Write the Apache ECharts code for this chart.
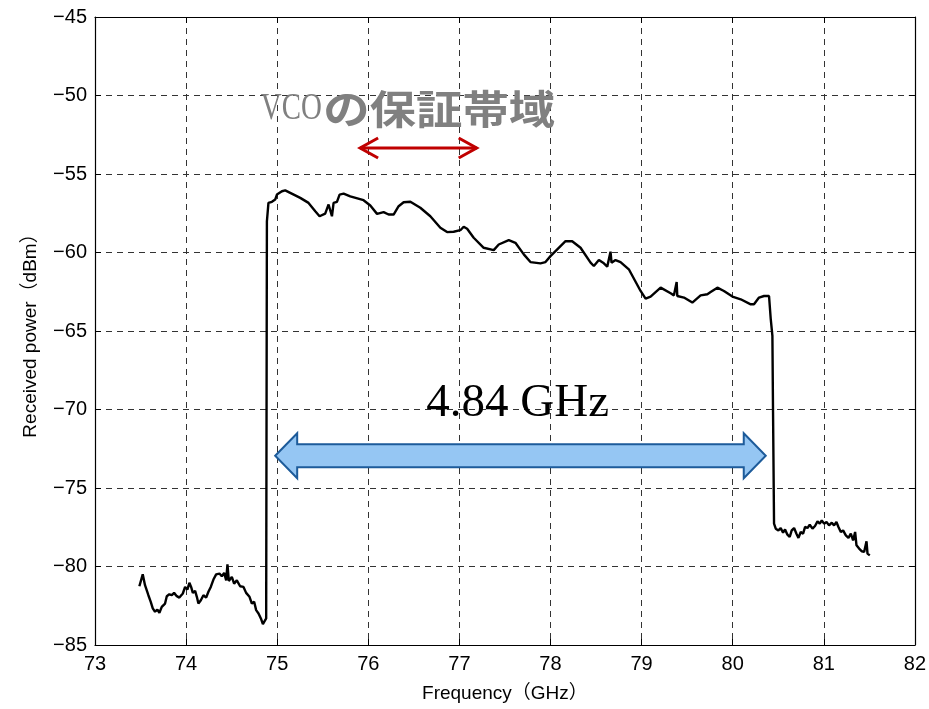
<!DOCTYPE html>
<html>
<head>
<meta charset="utf-8">
<script src="https://cdn.jsdelivr.net/npm/echarts@6/dist/echarts.min.js"></script>
<style>
  html, body { margin: 0; padding: 0; background: #fff; }
  #chart { width: 929px; height: 709px; }
</style>
</head>
<body>
<div id="chart"></div>
<script>
const freqGHz = [
  73.487, 73.524, 73.549, 73.586, 73.612, 73.634, 73.659, 73.685, 73.707, 73.733,
  73.769, 73.788, 73.816, 73.843, 73.868, 73.898, 73.926, 73.964, 73.989, 74.014,
  74.036, 74.055, 74.074, 74.099, 74.118, 74.135, 74.162, 74.190, 74.220, 74.245,
  74.271, 74.300, 74.330, 74.366, 74.392, 74.418, 74.440, 74.454, 74.469, 74.502,
  74.527, 74.557, 74.593, 74.630, 74.659, 74.696, 74.722, 74.747, 74.769, 74.795,
  74.821, 74.843, 74.860, 74.879,
  74.887, 74.904, 74.942, 74.978, 74.997, 75.052, 75.088, 75.143, 75.253, 75.344,
  75.418, 75.465, 75.527, 75.564, 75.601, 75.619, 75.656, 75.685, 75.729, 75.802,
  75.948, 76.022, 76.096, 76.168, 76.223, 76.278, 76.333, 76.388, 76.462, 76.571,
  76.681, 76.791, 76.865, 76.937, 77.011, 77.047, 77.085, 77.157, 77.267, 77.377,
  77.432, 77.542, 77.615, 77.707, 77.78, 77.89, 77.945, 78.0, 78.11, 78.165,
  78.238, 78.33, 78.44, 78.476, 78.531, 78.586, 78.623, 78.659, 78.67, 78.714,
  78.769, 78.86, 78.989, 79.044, 79.099, 79.209, 79.319, 79.355, 79.385, 79.392,
  79.465, 79.557, 79.648, 79.722, 79.758, 79.832, 79.904, 79.997, 80.088, 80.198,
  80.234, 80.289, 80.344, 80.399, 80.418, 80.436, 80.443,
  80.454, 80.473, 80.502, 80.527, 80.553, 80.575, 80.601, 80.626, 80.648, 80.674,
  80.700, 80.722, 80.747, 80.773, 80.795, 80.821, 80.846, 80.876, 80.904, 80.931,
  80.956, 80.978, 81.003, 81.030, 81.058, 81.088, 81.113, 81.139, 81.161, 81.187,
  81.212, 81.242, 81.271, 81.297, 81.322, 81.344, 81.359, 81.388, 81.418, 81.443,
  81.469, 81.480, 81.505
];
const powerDbm = [
  -81.26, -80.50, -81.19, -81.83, -82.25, -82.67, -82.88, -82.74, -82.95, -82.57,
  -82.36, -81.89, -81.77, -81.83, -81.68, -81.89, -81.98, -81.72, -81.30, -81.47,
  -81.04, -81.30, -81.68, -81.55, -81.93, -82.36, -82.15, -81.83, -81.98, -81.61,
  -81.30, -80.83, -80.50, -80.45, -80.62, -80.41, -80.88, -79.86, -80.92, -80.66,
  -81.09, -80.88, -81.26, -81.30, -81.68, -81.93, -82.36, -82.25, -82.78, -82.99,
  -83.31, -83.67, -83.74, -83.31,
  -58.02, -56.84, -56.77, -56.63, -56.31, -56.10, -56.04, -56.20, -56.52, -56.84,
  -57.37, -57.69, -57.52, -56.94, -57.69, -56.84, -56.77, -56.31, -56.25, -56.42,
  -56.67, -57.01, -57.54, -57.43, -57.58, -57.58, -57.05, -56.80, -56.77, -57.15,
  -57.69, -58.42, -58.70, -58.68, -58.58, -58.36, -58.49, -59.06, -59.70, -59.85,
  -59.49, -59.21, -59.38, -60.12, -60.61, -60.69, -60.61, -60.23, -59.59, -59.28,
  -59.28, -59.70, -60.65, -60.86, -60.48, -60.69, -60.90, -59.95, -60.65, -60.48,
  -60.61, -61.07, -62.45, -62.94, -62.81, -62.24, -62.60, -62.73, -61.88, -62.77,
  -62.87, -63.19, -62.73, -62.66, -62.52, -62.24, -62.45, -62.81, -62.98, -63.30,
  -63.30, -62.87, -62.77, -62.77, -64.25, -65.31, -70.16,
  -77.27, -77.59, -77.70, -77.55, -77.85, -77.64, -77.97, -78.12, -77.70, -77.55,
  -77.91, -78.18, -77.80, -77.91, -77.48, -77.55, -77.34, -77.59, -77.42, -77.13,
  -77.27, -77.06, -77.27, -77.17, -77.38, -77.21, -77.38, -77.17, -77.48, -77.80,
  -77.70, -78.02, -78.18, -77.91, -78.34, -77.80, -78.65, -78.86, -79.03, -79.07,
  -78.40, -79.18, -79.29
];

// axis ranges / ticks
const xTicks = { min: 73, max: 82, step: 1 };
const yTicks = { min: -85, max: -45, step: 5 };

// annotations in data coordinates
const vcoLatin = 'VCO';
const vcoKana = 'の保証帯域';
const vcoBand = [75.91, 77.19];       // red arrow ends (GHz)
const vcoArrowY = -53.34;
const spanLabel = '4.84 GHz';
const spanEnds = [74.978, 80.363];     // blue arrow tips (GHz)
const spanArrowY = -72.95;

var chartDom = document.getElementById('chart');
var myChart = echarts.init(chartDom);

var axisFont = "'Liberation Sans', 'Noto Sans CJK JP', sans-serif";
var gridLine = { show: true, lineStyle: { color: '#333', width: 1, type: [6, 5] } };
var boxLine = { show: true, onZero: false, lineStyle: { color: '#000', width: 1.2 } };
var inTick = { show: true, inside: true, length: 6, lineStyle: { color: '#000' } };

var option = {
  animation: false,
  grid: { left: 95, right: 14, top: 17, bottom: 64 },
  xAxis: [
    {
      type: 'value', min: xTicks.min, max: xTicks.max, interval: xTicks.step,
      name: 'Frequency（GHz）', nameLocation: 'middle', nameGap: 39,
      nameTextStyle: { fontSize: 19, color: '#000', fontFamily: axisFont },
      axisLine: boxLine, axisTick: inTick,
      axisLabel: { fontSize: 20, color: '#000', margin: 9, fontFamily: axisFont },
      splitLine: gridLine
    },
    {
      type: 'value', position: 'top', min: xTicks.min, max: xTicks.max, interval: xTicks.step,
      axisLine: boxLine, axisTick: inTick, axisLabel: { show: false }, splitLine: { show: false }
    }
  ],
  yAxis: [
    {
      type: 'value', min: yTicks.min, max: yTicks.max, interval: yTicks.step,
      name: 'Received power（dBm）', nameLocation: 'middle', nameGap: 55, nameRotate: 90,
      nameTextStyle: { fontSize: 19, color: '#000', fontFamily: axisFont },
      axisLine: boxLine, axisTick: inTick,
      axisLabel: {
        fontSize: 20, color: '#000', margin: 8, fontFamily: axisFont,
        formatter: function (v) { return String(v).replace('-', '\u2212'); }
      },
      splitLine: gridLine
    },
    {
      type: 'value', position: 'right', min: yTicks.min, max: yTicks.max, interval: yTicks.step,
      axisLine: boxLine, axisTick: inTick, axisLabel: { show: false }, splitLine: { show: false }
    }
  ],
  series: [
    {
      name: 'Received power',
      type: 'line',
      showSymbol: false,
      data: freqGHz.map(function (f, i) { return [f, powerDbm[i]]; }),
      lineStyle: { color: '#000', width: 2.4 },
      z: 5
    }
  ]
};

myChart.setOption(option);

// annotations placed through the axes
function px(x, y) { return myChart.convertToPixel({ gridIndex: 0 }, [x, y]); }

var vL = px(vcoBand[0], vcoArrowY), vR = px(vcoBand[1], vcoArrowY);
var sL = px(spanEnds[0], spanArrowY), sR = px(spanEnds[1], spanArrowY);
var vcoAt = px(74.82, -50.85);
var kanaAt = px(75.505, -50.86);
var spanText = px(77.64, -69.6);

var shaftH = 11.5, headH = 22.5, headL = 22;
var blueArrow = [
  [sL[0], sL[1]],
  [sL[0] + headL, sL[1] - headH],
  [sL[0] + headL, sL[1] - shaftH],
  [sR[0] - headL, sR[1] - shaftH],
  [sR[0] - headL, sR[1] - headH],
  [sR[0], sR[1]],
  [sR[0] - headL, sR[1] + headH],
  [sR[0] - headL, sR[1] + shaftH],
  [sL[0] + headL, sL[1] + shaftH],
  [sL[0] + headL, sL[1] + headH]
];

myChart.setOption({
  graphic: [
    {
      type: 'polygon', z: 10,
      shape: { points: blueArrow },
      style: { fill: '#95c6f3', stroke: '#1d5b9a', lineWidth: 2 }
    },
    {
      type: 'polyline', z: 10,
      shape: { points: [[vL[0], vL[1]], [vR[0], vR[1]]] },
      style: { stroke: '#c00000', lineWidth: 3, fill: null }
    },
    {
      type: 'polyline', z: 10,
      shape: { points: [[vL[0] + 18, vL[1] - 10], [vL[0], vL[1]], [vL[0] + 18, vL[1] + 10]] },
      style: { stroke: '#c00000', lineWidth: 3, fill: null }
    },
    {
      type: 'polyline', z: 10,
      shape: { points: [[vR[0] - 18, vR[1] - 10], [vR[0], vR[1]], [vR[0] - 18, vR[1] + 10]] },
      style: { stroke: '#c00000', lineWidth: 3, fill: null }
    },
    {
      type: 'text', z: 10,
      x: vcoAt[0], y: vcoAt[1], scaleX: 0.76,
      style: {
        text: vcoLatin, fill: '#808080', fontSize: 38,
        fontFamily: "'Liberation Serif', serif",
        align: 'left', verticalAlign: 'middle'
      }
    },
    {
      type: 'text', z: 10,
      x: kanaAt[0], y: kanaAt[1], scaleX: 1.16,
      style: {
        text: vcoKana, fill: '#808080', fontSize: 40, fontWeight: 'bold',
        fontFamily: "'Noto Sans CJK JP', sans-serif",
        align: 'left', verticalAlign: 'middle'
      }
    },
    {
      type: 'text', z: 10,
      x: spanText[0], y: spanText[1],
      style: {
        text: spanLabel, fill: '#000', fontSize: 47,
        fontFamily: "'Liberation Serif', serif",
        align: 'center', verticalAlign: 'middle'
      }
    }
  ]
});
</script>
</body>
</html>
